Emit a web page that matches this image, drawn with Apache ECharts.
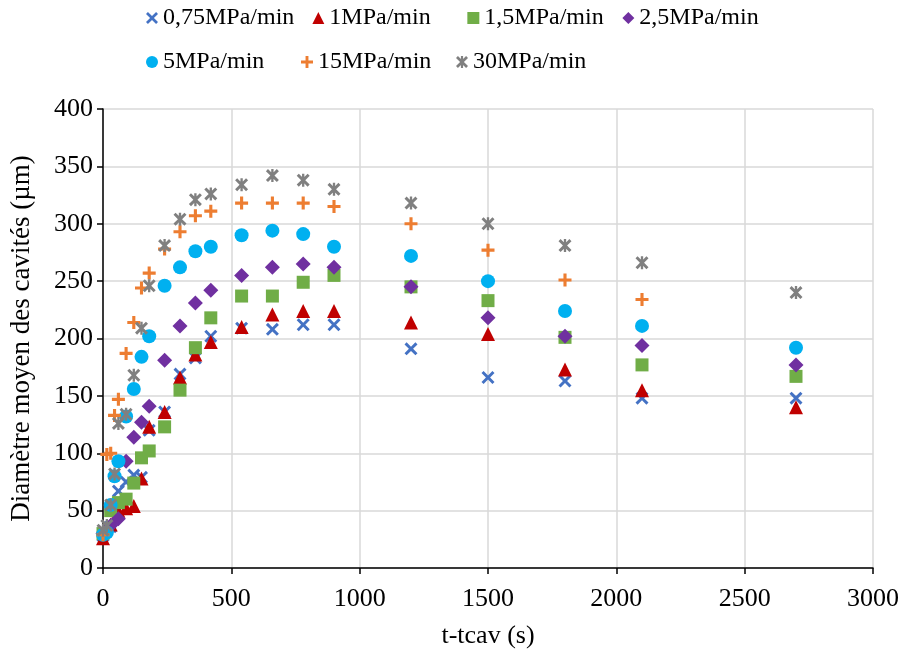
<!DOCTYPE html>
<html>
<head>
<meta charset="utf-8">
<script src="https://cdn.jsdelivr.net/npm/echarts@6/dist/echarts.min.js"></script>
<style>html,body{margin:0;padding:0;background:#fff}#c{width:903px;height:655px}</style>
</head>
<body>
<div id="c"></div>
<script>
// ---- Data ----
const seriesNames = ['0,75MPa/min', '1MPa/min', '1,5MPa/min', '2,5MPa/min', '5MPa/min', '15MPa/min', '30MPa/min'];

const tMain = [0, 30, 60, 90, 120, 150, 180, 240, 300, 360, 420, 540, 660, 780, 900, 1200, 1500, 1800, 2100, 2700];
const tFine = [0, 15, 30, 45, 60, 90, 120, 150, 180, 240, 300, 360, 420, 540, 660, 780, 900, 1200, 1500, 1800, 2100, 2700];
const tFineNo2700 = [0, 15, 30, 45, 60, 90, 120, 150, 180, 240, 300, 360, 420, 540, 660, 780, 900, 1200, 1500, 1800, 2100];

const d075 = [28, 36, 67, 75, 81, 79, 120, 136, 169, 183, 202, 209, 208, 212, 212, 191, 166, 163, 148, 148];
const d1   = [26, 38, 50, 52, 54, 78, 123, 136, 166, 186, 197, 210, 221, 224, 224, 214, 204, 173, 155, 140];
const d15  = [30, 50, 57, 60, 74, 96, 102, 123, 155, 192, 218, 237, 237, 249, 255, 245, 233, 201, 177, 167];
const d25  = [30, 37, 43, 93, 114, 127, 141, 181, 211, 231, 242, 255, 262, 265, 262, 245, 218, 202, 194, 177];
const d5   = [29, 31, 55, 80, 93, 132, 156, 184, 202, 246, 262, 276, 280, 290, 294, 291, 280, 272, 250, 224, 211, 192];
const d15b = [29, 99, 100, 133, 147, 187, 214, 244, 257, 278, 293, 307, 311, 318, 318, 318, 315, 300, 277, 251, 234];
const d30  = [33, 37, 55, 82, 126, 134, 168, 209, 246, 281, 304, 321, 326, 334, 342, 338, 330, 318, 300, 281, 266, 240];

const xTicks = [0, 500, 1000, 1500, 2000, 2500, 3000];
const yTicks = [0, 50, 100, 150, 200, 250, 300, 350, 400];

// ---- Symbols ----
const SYM_X = 'path://M0,1.6L1.6,0L5,3.4L8.4,0L10,1.6L6.6,5L10,8.4L8.4,10L5,6.6L1.6,10L0,8.4L3.4,5Z';
const SYM_PLUS = 'path://M3.8,0L6.2,0L6.2,3.8L10,3.8L10,6.2L6.2,6.2L6.2,10L3.8,10L3.8,6.2L0,6.2L0,3.8L3.8,3.8Z';
const SYM_STAR = 'path://M0,1.6L1.6,0L5,3.4L8.4,0L10,1.6L6.6,5L10,8.4L8.4,10L5,6.6L1.6,10L0,8.4L3.4,5Z M4.1,0L5.9,0L5.9,10L4.1,10Z';

const styles = [
  {symbol: SYM_X, size: 13, color: '#4472C4'},
  {symbol: 'triangle', size: 14, color: '#C00000'},
  {symbol: 'rect', size: 13, color: '#70AD47'},
  {symbol: 'diamond', size: 15, color: '#7030A0'},
  {symbol: 'circle', size: 14, color: '#00B0F0'},
  {symbol: SYM_PLUS, size: 13, color: '#ED7D31'},
  {symbol: SYM_STAR, size: 13, color: '#808080'}
];
const xs = [tMain, tMain, tMain, tMain, tFine, tFineNo2700, tFine];
const ys = [d075, d1, d15, d25, d5, d15b, d30];

const FONT = '"Liberation Serif", "Times New Roman", serif';

const series = seriesNames.map((name, i) => ({
  name: name,
  type: 'scatter',
  symbol: styles[i].symbol,
  symbolSize: styles[i].size,
  itemStyle: {color: styles[i].color, opacity: 1},
  data: xs[i].map((t, k) => [t, ys[i][k]]),
  z: 2 + i
}));

const chart = echarts.init(document.getElementById('c'));
chart.setOption({
  animation: false,
  backgroundColor: '#fff',
  legend: {
    data: seriesNames,
    left: 146,
    top: 5,
    width: 620,
    orient: 'horizontal',
    itemWidth: 12,
    itemHeight: 12,
    itemGap: 18,
    padding: 0,
    textStyle: {fontFamily: FONT, fontSize: 24, color: '#000', width: 120, lineHeight: 26}
  },
  grid: {left: 103, right: 30, top: 109, bottom: 87, containLabel: false},
  xAxis: {
    type: 'value',
    min: xTicks[0], max: xTicks[xTicks.length - 1], interval: 500,
    name: 't-tcav (s)',
    nameLocation: 'middle',
    nameGap: 55,
    nameTextStyle: {fontFamily: FONT, fontSize: 26, color: '#000'},
    axisLine: {show: true, onZero: false, lineStyle: {color: '#000', width: 1.5}},
    axisTick: {show: true, inside: false, length: 6, lineStyle: {color: '#000', width: 1.5}},
    axisLabel: {fontFamily: FONT, fontSize: 26, color: '#000', margin: 18, formatter: v => String(v)},
    splitLine: {show: true, lineStyle: {color: '#d9d9d9', width: 1.5}}
  },
  yAxis: {
    type: 'value',
    min: yTicks[0], max: yTicks[yTicks.length - 1], interval: 50,
    name: 'Diamètre moyen des cavités (µm)',
    nameLocation: 'middle',
    nameGap: 68,
    nameTextStyle: {fontFamily: FONT, fontSize: 27, color: '#000'},
    axisLine: {show: true, onZero: false, lineStyle: {color: '#000', width: 1.5}},
    axisTick: {show: true, inside: false, length: 6, lineStyle: {color: '#000', width: 1.5}},
    axisLabel: {fontFamily: FONT, fontSize: 26, color: '#000', margin: 10, formatter: v => String(v)},
    splitLine: {show: true, lineStyle: {color: '#d9d9d9', width: 1.5}}
  },
  series: series
});
</script>
</body>
</html>
